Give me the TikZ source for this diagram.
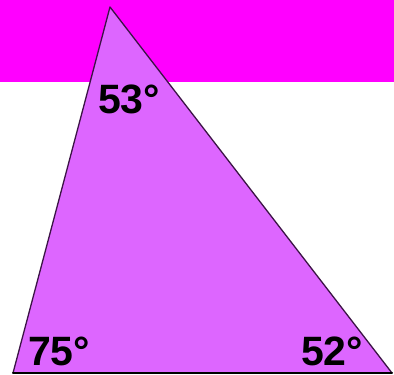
\documentclass[tikz,border=0pt]{standalone}
\usepackage{fontspec}
\setmainfont{Liberation Sans}
\definecolor{bande}{RGB}{255,0,255}
\definecolor{violet}{RGB}{221,102,255}
\definecolor{trait}{RGB}{60,20,70}

\begin{document}
\begin{tikzpicture}[line cap=round,line join=round,x=1pt,y=1pt,
  angle/.style={font=\fontsize{41}{41}\selectfont\bfseries,inner sep=0pt,text=black}]
		\useasboundingbox (0,0) rectangle (394,375);
		%bande du haut
		\fill[bande] (0,293) rectangle (394,375);
		%sommets
		\coordinate (A) at (110,368);
		\coordinate (B) at (13,2);
		\coordinate (C) at (392,2);
		%triangle
		\filldraw[fill=violet, draw=trait, line width=1.3pt] (A)--(B)--(C)--cycle;
		\draw[black, line width=2pt] (B)--(C);
		%angles
		\node[angle] (a) at (129,276) {53°};
		\node[angle] (b) at (59,24) {75°};
		\node[angle] (c) at (332,24) {52°};
\end{tikzpicture}
\end{document}
